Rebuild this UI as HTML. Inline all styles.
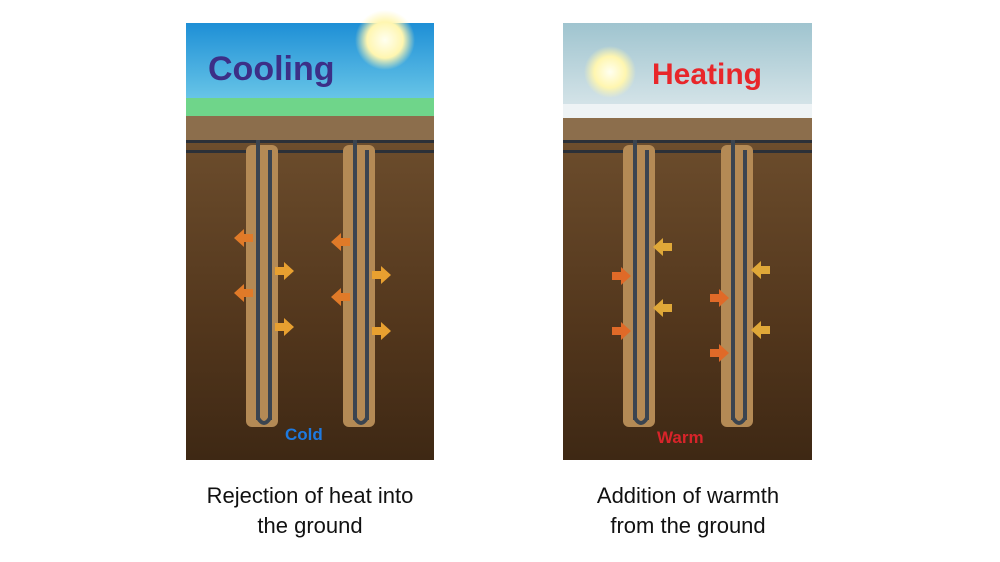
<!DOCTYPE html>
<html><head><style>
body{margin:0;background:#fff;width:1000px;height:562px;overflow:hidden;font-family:"Liberation Sans",sans-serif}
.cap{position:absolute;width:300px;text-align:center;font-size:22px;line-height:30px;color:#111}
</style></head><body>
<svg width="1000" height="562" style="position:absolute;left:0;top:0">
<defs>
<linearGradient id="sky1" x1="0" y1="0" x2="0" y2="1"><stop offset="0" stop-color="#1e8fd6"/><stop offset="1" stop-color="#6cc8e8"/></linearGradient>
<linearGradient id="sky2" x1="0" y1="0" x2="0" y2="1"><stop offset="0" stop-color="#9fc4cf"/><stop offset="1" stop-color="#d9e6ea"/></linearGradient>
<linearGradient id="soil" x1="0" y1="0" x2="0" y2="1"><stop offset="0" stop-color="#8a6a45"/><stop offset="0.3" stop-color="#6a4b2b"/><stop offset="0.7" stop-color="#52361c"/><stop offset="1" stop-color="#3e2814"/></linearGradient>
<radialGradient id="sun"><stop offset="0" stop-color="#fffff0"/><stop offset="0.6" stop-color="#fff6b0"/><stop offset="1" stop-color="#fff6b0" stop-opacity="0"/></radialGradient>
<g id="well">
<rect x="-12" y="145" width="32" height="282" rx="6" fill="#b48a55"/>
<rect x="-2" y="140" width="4" height="280" fill="#3a4450"/>
<rect x="10" y="150" width="4" height="270" fill="#3a4450"/>
<path d="M0 418 Q6 428 12 418" stroke="#3a4450" stroke-width="4" fill="none"/>
</g>
<path id="la" d="M-9 0 l10 -9 v5 h9 v8 h-9 v5z"/>
<path id="ra" d="M9 0 l-10 -9 v5 h-9 v8 h9 v5z"/>
</defs>
<rect x="186" y="23" width="248" height="437" fill="url(#soil)"/>
<rect x="186" y="23" width="248" height="80" fill="url(#sky1)"/>
<rect x="186" y="98" width="248" height="20" fill="#6fd58a"/>
<rect x="186" y="116" width="248" height="26" fill="#8c6e4c"/>
<circle cx="385" cy="40" r="30" fill="url(#sun)"/>
<rect x="186" y="140" width="248" height="3" fill="#2b3038"/>
<rect x="186" y="150" width="248" height="3" fill="#2b3038"/>
<use href="#well" x="258"/><use href="#well" x="355"/>
<text x="208" y="80" font-size="34" font-weight="bold" fill="#3c2f87">Cooling</text>
<text x="285" y="440" font-size="17" font-weight="bold" fill="#1e7ae0">Cold</text>
<g fill="#e8a030">
<use href="#la" x="243" y="238" fill="#e07a28"/><use href="#la" x="243" y="293" fill="#e07a28"/>
<use href="#ra" x="285" y="271"/><use href="#ra" x="285" y="327"/>
<use href="#la" x="340" y="242" fill="#e07a28"/><use href="#la" x="340" y="297" fill="#e07a28"/>
<use href="#ra" x="382" y="275"/><use href="#ra" x="382" y="331"/>
</g>
<rect x="563" y="23" width="249" height="437" fill="url(#soil)"/>
<rect x="563" y="23" width="249" height="90" fill="url(#sky2)"/>
<rect x="563" y="104" width="249" height="16" fill="#eef3f5"/>
<rect x="563" y="118" width="249" height="24" fill="#8c6e4c"/>
<circle cx="610" cy="72" r="26" fill="url(#sun)"/>
<rect x="563" y="140" width="249" height="3" fill="#2b3038"/>
<rect x="563" y="150" width="249" height="3" fill="#2b3038"/>
<use href="#well" x="635"/><use href="#well" x="733"/>
<text x="652" y="84" font-size="30" font-weight="bold" fill="#e8262a">Heating</text>
<text x="657" y="443" font-size="17" font-weight="bold" fill="#d8242a">Warm</text>
<g fill="#e0a838">
<use href="#ra" x="622" y="276" fill="#e06a28"/><use href="#ra" x="622" y="331" fill="#e06a28"/>
<use href="#la" x="662" y="247"/><use href="#la" x="662" y="308"/>
<use href="#ra" x="720" y="298" fill="#e06a28"/><use href="#ra" x="720" y="353" fill="#e06a28"/>
<use href="#la" x="760" y="270"/><use href="#la" x="760" y="330"/>
</g>
</svg>
<div class="cap" style="left:160px;top:481px">Rejection of heat into<br>the ground</div>
<div class="cap" style="left:538px;top:481px">Addition of warmth<br>from the ground</div>
</body></html>
